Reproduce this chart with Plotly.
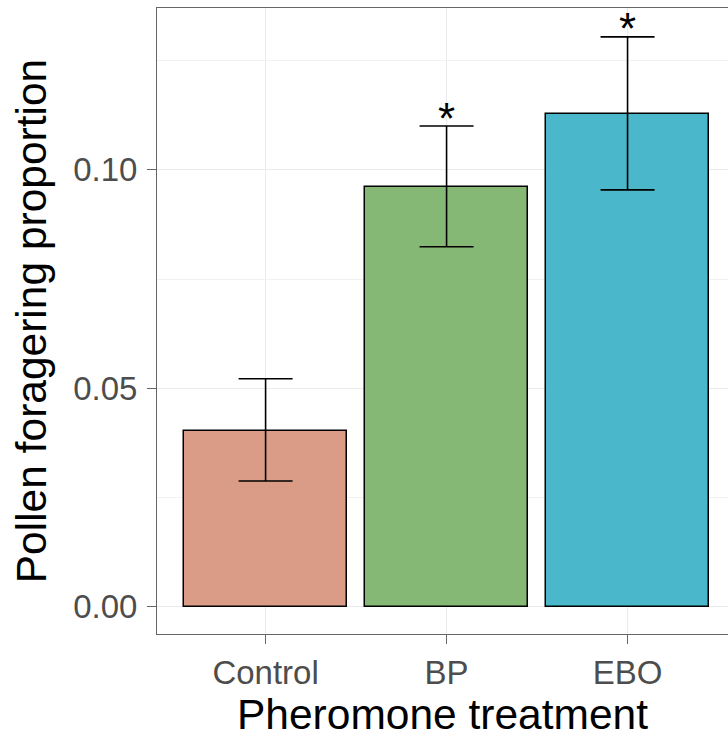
import plotly.graph_objects as go

categories = ["Control", "BP", "EBO"]
means = [0.0403, 0.0961, 0.1128]
upper = [0.0522, 0.1100, 0.1304]
lower = [0.0288, 0.0824, 0.0954]
colors = ["#DA9C86", "#85B875", "#4BB7CB"]
signif = ["", "*", "*"]
y_ticks = [0.0, 0.05, 0.10]

xpos = [1, 2, 3]
err_plus = [u - m for u, m in zip(upper, means)]
err_minus = [m - l for m, l in zip(means, lower)]

fig = go.Figure()
fig.add_trace(go.Bar(
    x=xpos, y=means, width=0.9,
    marker=dict(color=colors, line=dict(color="black", width=1.5)),
    error_y=dict(type="data", symmetric=False, array=err_plus, arrayminus=err_minus,
                 color="black", thickness=1.6, width=27),
    showlegend=False,
))

for x, u, s in zip(xpos, upper, signif):
    if s:
        fig.add_annotation(x=x, y=u, text=s, showarrow=False, yanchor="middle",
                           yshift=8, font=dict(size=44, color="black",
                                               family="Liberation Sans, Arial"))

fig.update_layout(
    width=728, height=738,
    margin=dict(l=157, r=0, t=8, b=104),
    plot_bgcolor="white", paper_bgcolor="white",
    font=dict(family="Liberation Sans, Arial", color="#4D4D4D"),
    bargap=0,
)
fig.update_xaxes(
    range=[0.4, 3.555], tickvals=xpos, ticktext=categories,
    showgrid=True, gridcolor="#EBEBEB", gridwidth=1,
    showline=True, linecolor="#666666", linewidth=1, mirror=True,
    ticks="outside", ticklen=9, tickcolor="#666666", tickwidth=1,
    tickfont=dict(size=33, color="#4D4D4D"),
    title=dict(text="Pheromone treatment", font=dict(size=42.5, color="black"), standoff=8),
    zeroline=False,
)
fig.update_yaxes(
    range=[-0.0062, 0.137], tickvals=y_ticks, tickformat=".2f",
    showgrid=True, gridcolor="#EBEBEB", gridwidth=1,
    minor=dict(dtick=0.025, tick0=0.025, showgrid=True, gridcolor="#F2F2F2", gridwidth=0.6),
    showline=True, linecolor="#666666", linewidth=1, mirror=False,
    ticks="outside", ticklen=9, tickcolor="#666666", tickwidth=1,
    ticklabelstandoff=3,
    tickfont=dict(size=33, color="#4D4D4D"),
    title=dict(text="Pollen foragering proportion", font=dict(size=42.5, color="black"), standoff=13),
    zeroline=False,
)

fig.write_html("out.html")
